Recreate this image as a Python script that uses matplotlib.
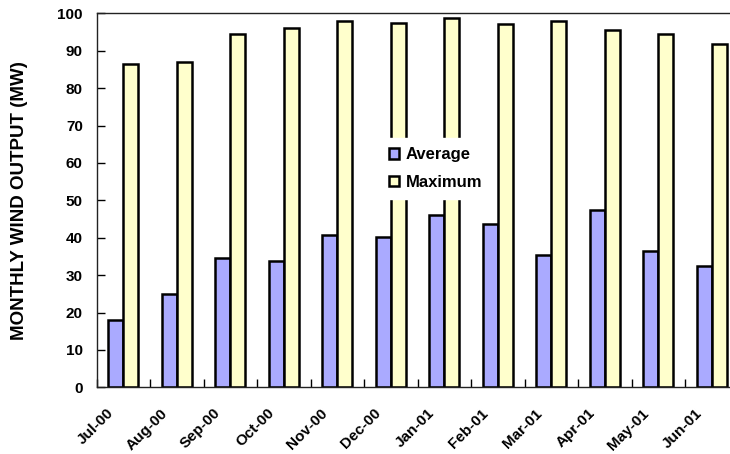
import numpy as np
import matplotlib
matplotlib.use("Agg")
import matplotlib.pyplot as plt
from matplotlib.transforms import ScaledTranslation

plt.rcParams['font.family'] = ['Liberation Sans', 'DejaVu Sans']
plt.rcParams['font.weight'] = 'bold'

months = ['Jul-00', 'Aug-00', 'Sep-00', 'Oct-00', 'Nov-00', 'Dec-00',
          'Jan-01', 'Feb-01', 'Mar-01', 'Apr-01', 'May-01', 'Jun-01']
average = [18.0, 25.0, 34.7, 33.7, 40.6, 40.1, 46.1, 43.7, 35.5, 47.3, 36.5, 32.4]
maximum = [86.5, 87.1, 94.4, 96.2, 97.9, 97.4, 98.8, 97.1, 97.9, 95.6, 94.4, 91.9]

fig = plt.figure(figsize=(7.3, 4.54), dpi=100)
# axes runs a little past the right edge of the figure
ax = fig.add_axes([96.7 / 730, 66.7 / 454, 642 / 730, 374 / 454])

x = np.arange(len(months))
w = 0.28
ax.bar(x - w / 2, average, w, color='#aaaaff', edgecolor='black',
       linewidth=1.8, label='Average', zorder=2)
ax.bar(x + w / 2, maximum, w, color='#ffffcc', edgecolor='black',
       linewidth=1.8, label='Maximum', zorder=2)

ax.set_xlim(-0.5, len(months) - 0.5)
ax.set_ylim(0, 100)
ax.set_yticks(range(0, 101, 10))
ax.set_xticks(x)
ax.set_xticks(np.arange(-0.5, len(months), 1), minor=True)
ax.tick_params(axis='x', which='major', length=0, pad=2)
ax.tick_params(axis='x', which='minor', direction='in', length=6, width=1)
ax.tick_params(axis='y', direction='in', length=6, width=1, labelsize=11, pad=10)

ax.set_xticklabels(months, rotation=45, ha='right', va='center',
                   rotation_mode='anchor', fontsize=11)
offset = ScaledTranslation(-12 / 100, -21 / 100, fig.dpi_scale_trans)
for lbl in ax.get_xticklabels():
    lbl.set_transform(lbl.get_transform() + offset)

for s in ax.spines.values():
    s.set_linewidth(1)
    s.set_color('#222222')

ax.set_ylabel('MONTHLY WIND OUTPUT (MW)', fontsize=13.5, fontweight='bold', labelpad=21)

leg = ax.legend(loc='upper left', bbox_to_anchor=((380 - 96.7) / 642, (387.3 - 138) / 374),
                frameon=True, fancybox=False, framealpha=1, edgecolor='white',
                fontsize=12, handlelength=0.6, handleheight=0.6, handletextpad=0.4,
                labelspacing=0.75, borderpad=0.55, borderaxespad=0)
leg.set_zorder(5)

fig.savefig('out.png', dpi=100)
